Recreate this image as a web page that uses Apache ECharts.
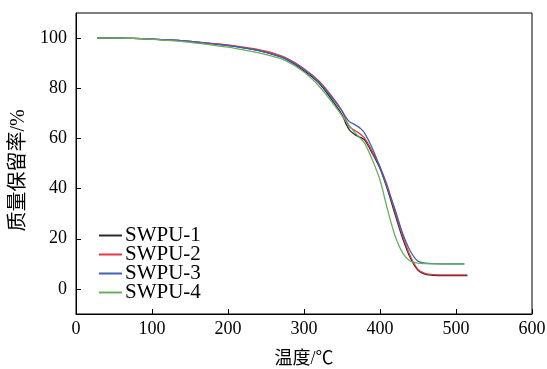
<!DOCTYPE html>
<html><head><meta charset="utf-8">
<script src="https://cdn.jsdelivr.net/npm/echarts@6/dist/echarts.min.js"></script>
<style>html,body{margin:0;padding:0;background:#fff}#c{width:547px;height:369px}</style>
</head><body><div id="c"></div>
<script>
const names = ['SWPU-1','SWPU-2','SWPU-3','SWPU-4'];
const colors = ['#2a2a2a','#e23a44','#3d62b6','#68b05e'];
const tempA = [28,50,75,100,125,150,175,200,225,250,275,300,320,340,350,355,360,365,370,375,380,390,400,410,420,430,440,450,460,470,490,515];
const tempB = [28,50,75,100,125,150,175,200,225,250,275,300,320,340,350,355,360,365,370,375,380,390,400,410,420,430,440,450,460,470,490,511];
const swpu1 = [100,100,99.9,99.6,99.2,98.7,97.9,97.0,95.9,94.3,91.8,87.0,82.0,74.0,69.5,66.0,63.3,62.0,61.0,60.3,59.3,54.0,48.0,39.5,29.5,20.0,12.3,7.4,5.8,5.4,5.3,5.3];
const swpu2 = [100,100,99.9,99.6,99.2,98.7,98.0,97.3,96.2,94.8,92.3,87.8,82.8,75.5,71.0,67.5,64.6,63.5,62.6,61.5,60.0,54.7,48.7,40.8,30.5,21.0,13.0,7.8,6.1,5.7,5.6,5.6];
const swpu3 = [100,100,99.9,99.6,99.2,98.7,97.9,97.0,95.9,94.3,91.9,87.5,82.3,75.0,71.0,68.5,66.6,65.8,64.9,63.8,62.0,56.0,48.5,40.0,31.5,22.0,15.0,11.0,10.3,10.1,10.0,10.0];
const swpu4 = [100,100,99.9,99.5,99.0,98.3,97.4,96.4,95.0,93.4,91.1,86.5,80.8,73.2,69.0,67.0,65.0,63.0,61.3,59.8,58.0,51.4,43.4,31.5,21.0,14.3,11.0,10.3,10.1,10.0,9.9,9.9];
const xTicks = [0,100,200,300,400,500,600];
const yTicks = [0,20,40,60,80,100];

const seriesData = [[tempA,swpu1],[tempA,swpu2],[tempB,swpu3],[tempB,swpu4]];
const font = "'Liberation Serif','Times New Roman',serif";
const cjk = "'Liberation Serif','Noto Sans CJK SC',serif";
const chart = echarts.init(document.getElementById('c'), null, {renderer:'canvas'});
chart.setOption({
  animation:false,
  backgroundColor:'#fff',
  grid:{left:76,right:15,top:13,bottom:55,outerBoundsMode:'none',containLabel:false,show:true,borderColor:'#000',borderWidth:1,backgroundColor:'transparent'},
  legend:{
    data:names, orient:'vertical', left:99, top:225, itemGap:-2, padding:0,
    itemWidth:23, itemHeight:2, icon:'rect',
    textStyle:{fontFamily:font,fontSize:21,lineHeight:20,color:'#000',padding:[0,0,0,-2]}
  },
  xAxis:{
    type:'value', min:0, max:600, interval:100,
    name:'温度/℃', nameLocation:'middle', nameGap:36,
    nameTextStyle:{fontFamily:cjk,fontSize:18,color:'#000'},
    axisLine:{show:true,onZero:false,lineStyle:{color:'#000',width:1}},
    axisTick:{show:true,inside:true,length:5,lineStyle:{color:'#000'}},
    axisLabel:{fontFamily:font,fontSize:18,color:'#000',margin:6},
    splitLine:{show:false}
  },
  yAxis:{
    type:'value', min:-10, max:110,
    name:'质量保留率/%', nameLocation:'middle', nameGap:45,
    nameTextStyle:{fontFamily:cjk,fontSize:20,color:'#000',padding:[0,14,0,0]},
    axisLine:{show:true,onZero:false,lineStyle:{color:'#000',width:1}},
    axisTick:{show:true,inside:true,length:5,lineStyle:{color:'#000'},customValues:yTicks},
    axisLabel:{fontFamily:font,fontSize:18,color:'#000',margin:9,customValues:yTicks},
    splitLine:{show:false}
  },
  series: seriesData.map((d,i)=>({
    name:names[i], type:'line', smooth:0.3, showSymbol:false,
    data:d[0].map((t,j)=>[t,d[1][j]]),
    lineStyle:{color:colors[i],width:1.3}, itemStyle:{color:colors[i]}
  }))
});
</script></body></html>
